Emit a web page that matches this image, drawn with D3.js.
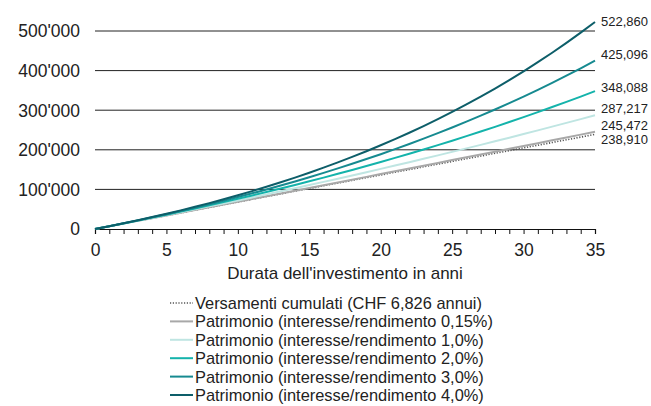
<!DOCTYPE html>
<html>
<head>
<meta charset="utf-8">
<script src="https://cdn.jsdelivr.net/npm/d3@7/dist/d3.min.js"></script>
<style>
  html, body { margin: 0; padding: 0; background: #fff; }
  svg { display: block; }
  text { font-family: "Liberation Sans", Arial, sans-serif; fill: #222; }
</style>
</head>
<body>
<svg id="chart" width="651" height="406"></svg>
<script>
// ---- Data ----
const years = d3.range(0, 36);
const yTicks = [0, 100000, 200000, 300000, 400000, 500000];
const yTickLabels = ["0", "100'000", "200'000", "300'000", "400'000", "500'000"];
const xTicksLabeled = [0, 5, 10, 15, 20, 25, 30, 35];

const seriesNames = [
  "Versamenti cumulati (CHF 6,826 annui)",
  "Patrimonio (interesse/rendimento 0,15%)",
  "Patrimonio (interesse/rendimento 1,0%)",
  "Patrimonio (interesse/rendimento 2,0%)",
  "Patrimonio (interesse/rendimento 3,0%)",
  "Patrimonio (interesse/rendimento 4,0%)"
];
const endLabels = ["238,910", "245,472", "287,217", "348,088", "425,096", "522,860"];

const versamenti = [0, 6826, 13652, 20478, 27304, 34130, 40956, 47782, 54608, 61434, 68260,
  75086, 81912, 88738, 95564, 102390, 109216, 116042, 122868, 129694, 136520,
  143346, 150172, 156998, 163824, 170650, 177476, 184302, 191128, 197954, 204780,
  211606, 218432, 225258, 232084, 238910];
const rend015 = [0, 6836, 13683, 20539, 27406, 34284, 41171, 48069, 54977, 61895, 68826,
  75762, 82711, 89670, 96639, 103628, 110619, 117621, 124634, 131657, 138691,
  145735, 152790, 159855, 166931, 174018, 181115, 188223, 195341, 202470, 209610,
  216761, 223922, 231094, 238277, 245472];
const rend1 = [0, 6894, 13858, 20890, 27994, 35168, 42414, 49731, 57124, 64589, 72129,
  79745, 87437, 95205, 103051, 110976, 118980, 127064, 135229, 143476, 151806,
  160218, 168714, 177295, 185961, 194716, 203557, 212487, 221506, 230616, 239816,
  249109, 258494, 267973, 277546, 287217];
const rend2 = [0, 6963, 14064, 21308, 28697, 36233, 43920, 51761, 59759, 67917, 76238,
  84726, 93383, 102212, 111219, 120406, 129776, 139334, 149084, 159028, 169171,
  179517, 190070, 200834, 211813, 223012, 234434, 246086, 257970, 270092, 282456,
  295068, 307932, 321053, 334436, 348088];
const rend3 = [0, 7031, 14273, 21731, 29414, 37327, 45478, 53873, 62519, 71426, 80600,
  90049, 99780, 109805, 120130, 130765, 141720, 153001, 164622, 176591, 188920,
  201618, 214697, 228169, 242045, 256337, 271058, 286221, 301838, 317924, 334492,
  351558, 369135, 387240, 405888, 425096];
const rend4 = [0, 7099, 14482, 22160, 30146, 38451, 47089, 56069, 65412, 75128, 85232,
  95740, 106670, 118035, 129855, 142148, 154933, 168230, 182058, 196439, 211396,
  226951, 243128, 259952, 277449, 295646, 314571, 334253, 354722, 376010, 398149,
  421174, 445120, 470024, 495924, 522860];

const seriesValues = [versamenti, rend015, rend1, rend2, rend3, rend4];

// ---- Styles ----
const colors = ["#555555", "#a8a8a8", "#bfe5e2", "#14b3ab", "#168a90", "#0d5e69"];
const dashes = ["1.2,1.6", null, null, null, null, null];
const widths = [1.6, 2, 2, 2, 2, 2];
const labelNudge = [5, -6, -7, -4, -6, 0];

const svg = d3.select("#chart");
const x = d3.scaleLinear().domain([0, 35]).range([95, 595]);
const y = d3.scaleLinear().domain([0, 500000]).range([229, 31]);

// gridlines
svg.append("g").selectAll("line")
  .data(yTicks.filter(d => d > 0))
  .join("line")
  .attr("x1", x(0)).attr("x2", x(35))
  .attr("y1", d => y(d)).attr("y2", d => y(d))
  .attr("stroke", "#222").attr("stroke-width", 1);

// y labels
svg.append("g").selectAll("text")
  .data(yTicks)
  .join("text")
  .attr("x", 80).attr("y", d => y(d))
  .attr("dy", "0.36em")
  .attr("text-anchor", "end")
  .attr("font-size", 17.5)
  .text((d, i) => yTickLabels[i]);

// x axis
const xAxis = d3.axisBottom(x)
  .tickValues(years)
  .tickSize(5)
  .tickFormat(d => xTicksLabeled.includes(d) ? d : "");
const gx = svg.append("g").attr("transform", `translate(0,${y(0)})`).call(xAxis);
gx.select(".domain").attr("stroke", "#111").attr("stroke-width", 1.2);
gx.selectAll(".tick line").attr("stroke", "#111");
gx.selectAll(".tick text")
  .attr("font-family", "Liberation Sans, Arial, sans-serif")
  .attr("font-size", 17.5).attr("fill", "#222").attr("dy", "1.1em");

svg.append("text")
  .attr("x", (x(0) + x(35)) / 2).attr("y", 273)
  .attr("dy", "0.35em")
  .attr("text-anchor", "middle")
  .attr("font-size", 17)
  .text("Durata dell'investimento in anni");

// lines
const line = d3.line().x((d, i) => x(years[i])).y(d => y(d));
svg.append("g").selectAll("path")
  .data(seriesValues)
  .join("path")
  .attr("d", d => line(d))
  .attr("fill", "none")
  .attr("stroke", (d, i) => colors[i])
  .attr("stroke-width", (d, i) => widths[i])
  .attr("stroke-dasharray", (d, i) => dashes[i]);

// end labels
svg.append("g").selectAll("text")
  .data(seriesValues)
  .join("text")
  .attr("x", 601)
  .attr("y", (d, i) => y(d[d.length - 1]) + labelNudge[i])
  .attr("dy", "0.35em")
  .attr("font-size", 13)
  .text((d, i) => endLabels[i]);

// legend
const legend = svg.append("g");
const rowY = d3.scalePoint().domain(d3.range(6)).range([303, 395]);
seriesNames.forEach((name, i) => {
  const yy = rowY(i);
  legend.append("line")
    .attr("x1", 170).attr("x2", 193)
    .attr("y1", yy).attr("y2", yy)
    .attr("stroke", colors[i])
    .attr("stroke-width", widths[i])
    .attr("stroke-dasharray", dashes[i]);
  legend.append("text")
    .attr("x", 195).attr("y", yy)
    .attr("dy", "0.36em")
    .attr("font-size", 16.4)
    .text(name);
});
</script>
</body>
</html>
